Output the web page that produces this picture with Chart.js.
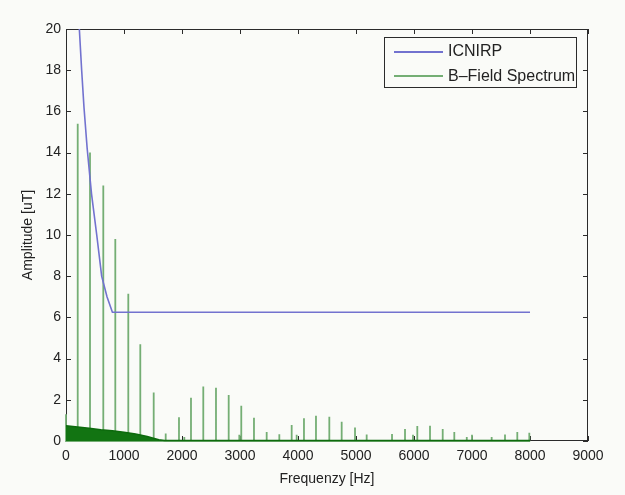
<!DOCTYPE html>
<html>
<head>
<meta charset="utf-8">
<script src="https://cdn.jsdelivr.net/npm/chart.js@4/dist/chart.umd.min.js"></script>
<style>
  html, body { margin: 0; padding: 0; background: #fafbf8; }
  #wrap { width: 625px; height: 495px; }
</style>
</head>
<body>
<div id="wrap"><canvas id="myChart" width="625" height="495"></canvas></div>
<script>
// ICNIRP reference level
const icnirpFreq = [230, 270, 310, 365, 440, 530, 615, 707, 800, 8000];
const icnirpAmp = [20, 18, 16.2, 14.2, 12, 10, 8, 7, 6.25, 6.25];

// spectrum peaks
const spikeFreq = [0, 202, 414, 643, 850, 1074, 1281, 1512, 1719, 1948, 2040, 2155, 2367, 2586, 2805, 2988, 3022, 3241, 3460, 3678, 3891, 3977, 4103, 4310, 4540, 4753, 4983, 5184, 5400, 5621, 5845, 5983, 6057, 6276, 6495, 6695, 6910, 7000, 7339, 7569, 7781, 7988];
const spikeAmp = [1.3, 15.4, 14.0, 12.4, 9.8, 7.15, 4.7, 2.35, 0.37, 1.15, 0.2, 2.1, 2.64, 2.59, 2.23, 0.3, 1.71, 1.13, 0.44, 0.33, 0.78, 0.3, 1.1, 1.23, 1.18, 0.94, 0.65, 0.32, 0.05, 0.34, 0.58, 0.3, 0.73, 0.74, 0.58, 0.44, 0.2, 0.3, 0.2, 0.32, 0.44, 0.4];

// low frequency noise floor
const noiseFreq = [0, 200, 400, 600, 800, 1000, 1200, 1400, 1600, 1700, 8000];
const noiseAmp = [0.74, 0.68, 0.62, 0.55, 0.5, 0.43, 0.34, 0.22, 0.06, 0.02, 0.02];

const xTicks = [0, 1000, 2000, 3000, 4000, 5000, 6000, 7000, 8000, 9000];
const yTicks = [0, 2, 4, 6, 8, 10, 12, 14, 16, 18, 20];

const fontName = '"Liberation Sans", Arial, sans-serif';
const blue = '#7272cf';
const green = '#74ae74';

let spikePoints = [];
for (let i = 0; i < spikeFreq.length; i++) {
  spikePoints.push({x: spikeFreq[i], y: 0});
  spikePoints.push({x: spikeFreq[i], y: spikeAmp[i]});
  spikePoints.push({x: spikeFreq[i], y: 0});
}

// box, inward ticks, legend
const frame = {
  id: 'frame',
  beforeDatasetsDraw(chart) {
    const {ctx, chartArea: a, scales: {x, y}} = chart;
    ctx.save();
    ctx.strokeStyle = '#2b2b2b';
    ctx.lineWidth = 1;
    ctx.strokeRect(a.left + 0.5, a.top + 0.5, a.right - a.left - 1, a.bottom - a.top - 1);
    ctx.beginPath();
    x.ticks.forEach(t => {
      let px = Math.round(x.getPixelForValue(t.value)) + 0.5;
      ctx.moveTo(px, a.bottom); ctx.lineTo(px, a.bottom - 5);
      ctx.moveTo(px, a.top); ctx.lineTo(px, a.top + 5);
    });
    y.ticks.forEach(t => {
      let py = Math.round(y.getPixelForValue(t.value)) + 0.5;
      ctx.moveTo(a.left, py); ctx.lineTo(a.left + 5, py);
      ctx.moveTo(a.right, py); ctx.lineTo(a.right - 5, py);
    });
    ctx.stroke();
    ctx.restore();
  },
  afterDatasetsDraw(chart) {
    const ctx = chart.ctx;
    ctx.save();
    ctx.fillStyle = '#fafbf8';
    ctx.fillRect(384, 37, 193, 51);
    ctx.strokeStyle = '#2b2b2b';
    ctx.lineWidth = 1;
    ctx.strokeRect(384.5, 37.5, 192, 50);
    ctx.lineWidth = 2;
    ctx.strokeStyle = blue;
    ctx.beginPath(); ctx.moveTo(394, 52); ctx.lineTo(443, 52); ctx.stroke();
    ctx.strokeStyle = green;
    ctx.beginPath(); ctx.moveTo(394, 76); ctx.lineTo(443, 76); ctx.stroke();
    ctx.fillStyle = '#222';
    ctx.font = '16px ' + fontName;
    ctx.textBaseline = 'middle';
    ctx.fillText('ICNIRP', 448, 52);
    ctx.fillText('B\u2013Field Spectrum', 448, 77);
    ctx.restore();
  }
};

new Chart(document.getElementById('myChart'), {
  type: 'line',
  data: {
    datasets: [{
      label: 'ICNIRP',
      data: icnirpFreq.map((f, i) => ({x: f, y: icnirpAmp[i]})),
      borderColor: blue,
      borderWidth: 1.6,
      pointRadius: 0,
      order: 0
    }, {
      label: 'noise',
      data: noiseFreq.map((f, i) => ({x: f, y: noiseAmp[i]})),
      borderColor: '#0d6a0d',
      backgroundColor: '#127412',
      borderWidth: 1.5,
      fill: 'origin',
      pointRadius: 0,
      clip: 4,
      order: 1
    }, {
      label: 'B-Field Spectrum',
      data: spikePoints,
      borderColor: green,
      borderWidth: 1.8,
      pointRadius: 0,
      clip: 4,
      order: 2
    }]
  },
  options: {
    responsive: false,
    animation: false,
    devicePixelRatio: 1,
    layout: { padding: { left: 0, top: 29, right: 37, bottom: 0 } },
    plugins: { legend: { display: false }, tooltip: { enabled: false } },
    scales: {
      x: {
        type: 'linear',
        min: 0, max: 9000,
        afterBuildTicks: s => { s.ticks = xTicks.map(v => ({value: v})); },
        afterFit: s => { s.height = 54; },
        grid: { display: false, drawTicks: false },
        border: { display: false },
        ticks: { color: '#222', padding: 7, maxRotation: 0, font: { family: fontName, size: 14 }, callback: v => String(v) },
        title: { display: true, text: 'Frequenzy [Hz]', color: '#222', padding: { top: 2, bottom: 7 }, font: { family: fontName, size: 14 } }
      },
      y: {
        min: 0, max: 20,
        afterBuildTicks: s => { s.ticks = yTicks.map(v => ({value: v})); },
        afterFit: s => { s.width = 66; },
        grid: { display: false, drawTicks: false },
        border: { display: false },
        ticks: { color: '#222', padding: 5, font: { family: fontName, size: 14 }, callback: v => String(v) },
        title: { display: true, text: 'Amplitude [uT]', color: '#222', padding: { top: 20, bottom: 0 }, font: { family: fontName, size: 14 } }
      }
    }
  },
  plugins: [frame]
});
</script>
</body>
</html>
